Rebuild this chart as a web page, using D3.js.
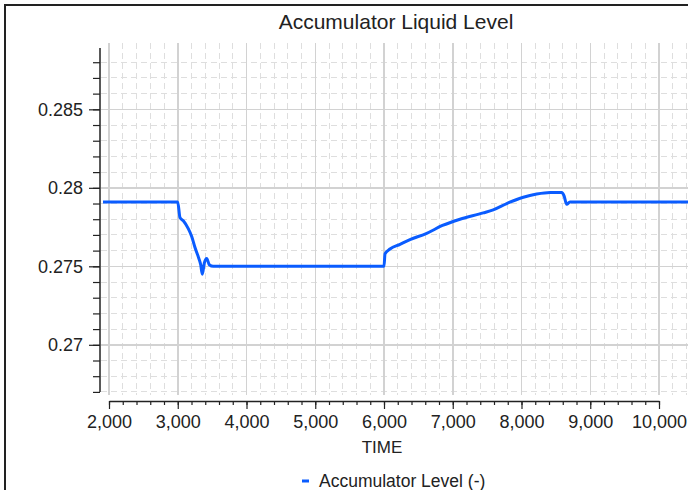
<!DOCTYPE html>
<html>
<head>
<meta charset="utf-8">
<script src="https://cdn.jsdelivr.net/npm/d3@7"></script>
<style>
	body { margin: 0; background: #fff; }
	svg { display: block; font-family: "Liberation Sans", Arial, sans-serif; }
</style>
</head>
<body>
<div id="chart"></div>
<script>
// values
var timeValues = [1913, 2999, 3033, 3081, 3153, 3203, 3251, 3299, 3334, 3357, 3386, 3421, 3459, 3517,
	6000, 6015, 6087, 6233, 6378, 6621, 6850, 7105, 7444, 7589, 7785, 8027, 8221, 8415, 8585, 8618, 8657, 8705, 10450];
var levelValues = [0.2791, 0.2791, 0.2781, 0.2779, 0.2774, 0.2769, 0.2762, 0.2756, 0.2751, 0.2745, 0.2752, 0.2755, 0.2751, 0.2750,
	0.2750, 0.2758, 0.2761, 0.2764, 0.2767, 0.2771, 0.2776, 0.2780, 0.2784, 0.2786, 0.2790, 0.2794, 0.2796, 0.2797, 0.2797, 0.2795, 0.27895, 0.2791, 0.2791];
var xMajorTicks = [2000, 3000, 4000, 5000, 6000, 7000, 8000, 9000, 10000];
var yMajorTicks = [0.27, 0.275, 0.28, 0.285];
var title = "Accumulator Liquid Level";
var xTitle = "TIME";
var seriesName = "Accumulator Level (-)";

var width = 688, height = 490;
var lineColor = "#0a5cff";

var svg = d3.select("#chart").append("svg")
	.attr("width", width)
	.attr("height", height);

// outer frame
svg.append("rect")
	.attr("x", 5).attr("y", 5)
	.attr("width", width + 20).attr("height", height + 20)
	.attr("fill", "none")
	.attr("stroke", "#222")
	.attr("stroke-width", 2);

var x = d3.scaleLinear().domain([2000, 10000]).range([109, 659]);
var y = d3.scaleLinear().domain([0.267, 0.2889]).range([391.9, 48.1]);

var grid = {left: 101, right: width, top: 43, bottom: 395};

var xMinor = d3.range(2000, 10401, 200).filter(t => t % 1000 !== 0);
var yMinor = d3.range(267, 289).map(d => d / 1000).filter(v => Math.round(v * 1000) % 5 !== 0);

var g = svg.append("g").attr("shape-rendering", "crispEdges");

// minor dashed grid
g.selectAll("line.xminor")
	.data(xMinor)
	.enter().append("line")
	.attr("x1", d => x(d)).attr("x2", d => x(d))
	.attr("y1", grid.top).attr("y2", grid.bottom)
	.attr("stroke", "#dedede")
	.attr("stroke-dasharray", "6,4");

g.selectAll("line.yminor")
	.data(yMinor)
	.enter().append("line")
	.attr("x1", grid.left).attr("x2", grid.right)
	.attr("y1", d => y(d)).attr("y2", d => y(d))
	.attr("stroke", "#dedede")
	.attr("stroke-dasharray", "6,4");

// major grid
g.selectAll("line.xmajor")
	.data(xMajorTicks)
	.enter().append("line")
	.attr("x1", d => x(d)).attr("x2", d => x(d))
	.attr("y1", grid.top).attr("y2", grid.bottom)
	.attr("stroke", "#d2d2d2")
	.attr("stroke-width", 1.5);

g.selectAll("line.ymajor")
	.data(yMajorTicks)
	.enter().append("line")
	.attr("x1", grid.left).attr("x2", grid.right)
	.attr("y1", d => y(d)).attr("y2", d => y(d))
	.attr("stroke", "#d2d2d2")
	.attr("stroke-width", 1.5);

// y axis
var yAxisMinor = d3.axisLeft(y)
	.tickValues(d3.range(267, 289).map(d => d / 1000))
	.tickSize(7)
	.tickFormat("");
svg.append("g")
	.attr("transform", "translate(100,0)")
	.call(yAxisMinor)
	.call(a => a.select(".domain").remove())
	.selectAll("line").attr("stroke", "#222").attr("stroke-width", 1.2);

var yAxis = d3.axisLeft(y)
	.tickValues(yMajorTicks)
	.tickSize(11)
	.tickPadding(6)
	.tickFormat(d => d3.format("")(+d.toFixed(3)));
var yAxisG = svg.append("g")
	.attr("transform", "translate(100,0)")
	.call(yAxis);
yAxisG.select(".domain").attr("d", `M0,${y.range()[1]}V${y.range()[0]}`).attr("stroke", "#222").attr("stroke-width", 1.5);
yAxisG.selectAll("line").attr("stroke", "#222").attr("stroke-width", 1.2);
yAxisG.selectAll("text").attr("font-size", 18).attr("fill", "#222");

// x axis
var xAxisMinor = d3.axisBottom(x)
	.tickValues(d3.range(2000, 10001, 200))
	.tickSize(4)
	.tickFormat("");
svg.append("g")
	.attr("transform", "translate(0,401)")
	.call(xAxisMinor)
	.call(a => a.select(".domain").remove())
	.selectAll("line").attr("stroke", "#222").attr("stroke-width", 1.2);

var xAxis = d3.axisBottom(x)
	.tickValues(xMajorTicks)
	.tickSizeInner(8)
	.tickSizeOuter(0)
	.tickPadding(6)
	.tickFormat(d3.format(","));
var xAxisG = svg.append("g")
	.attr("transform", "translate(0,401)")
	.call(xAxis);
xAxisG.select(".domain").attr("stroke", "#222").attr("stroke-width", 1.5);
xAxisG.selectAll("line").attr("stroke", "#222").attr("stroke-width", 1.2);
xAxisG.selectAll("text").attr("font-size", 18).attr("fill", "#222");

// series
svg.append("clipPath").attr("id", "clip")
	.append("rect")
	.attr("x", grid.left).attr("y", grid.top)
	.attr("width", grid.right - grid.left).attr("height", grid.bottom - grid.top);

var data = timeValues.map((t, i) => ({t: t, v: levelValues[i]}));
var line = d3.line()
	.curve(d3.curveMonotoneX)
	.x(d => x(d.t))
	.y(d => y(d.v));

svg.append("path")
	.datum(data)
	.attr("clip-path", "url(#clip)")
	.attr("fill", "none")
	.attr("stroke", lineColor)
	.attr("stroke-width", 3)
	.attr("stroke-linejoin", "round")
	.attr("d", line);

// titles
svg.append("text")
	.attr("x", 396).attr("y", 29)
	.attr("text-anchor", "middle")
	.attr("font-size", 21)
	.attr("fill", "#222")
	.text(title);

svg.append("text")
	.attr("x", 382).attr("y", 453)
	.attr("text-anchor", "middle")
	.attr("font-size", 17)
	.attr("fill", "#222")
	.text(xTitle);

// legend
var legend = svg.append("g").attr("transform", "translate(0,487)");
legend.append("line")
	.attr("x1", 302).attr("x2", 309)
	.attr("y1", -6).attr("y2", -6)
	.attr("stroke", lineColor)
	.attr("stroke-width", 3);
legend.append("text")
	.attr("x", 319).attr("y", 0)
	.attr("font-size", 17.5)
	.attr("fill", "#222")
	.text(seriesName);
</script>
</body>
</html>
